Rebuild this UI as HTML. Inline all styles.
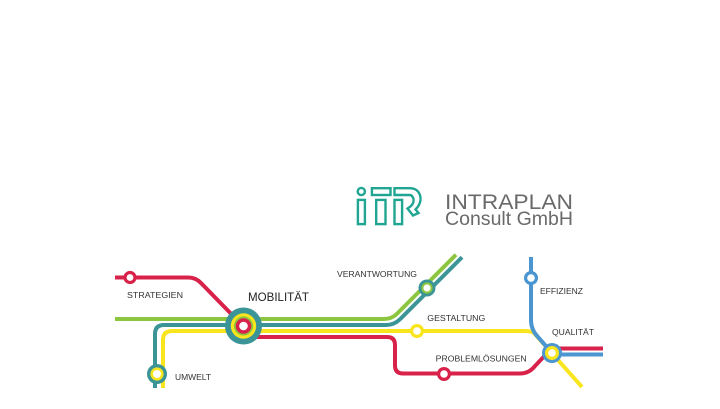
<!DOCTYPE html>
<html><head><meta charset="utf-8"><style>
html,body{margin:0;padding:0;background:#fff;}
svg{display:block;}
text{font-family:"Liberation Sans",Arial,sans-serif;}
</style></head><body>
<svg width="720" height="409" viewBox="0 0 720 409" xmlns="http://www.w3.org/2000/svg">
<rect width="720" height="409" fill="#fff"/>
<!-- Logo -->
<g fill="none" stroke="#1fa592" stroke-width="2.4">
<circle cx="361.3" cy="191.5" r="3.6"/>
<rect x="357.9" y="199.9" width="7" height="24.2"/>
<rect x="371.9" y="188.2" width="18.6" height="6.8"/>
<rect x="376.2" y="199.9" width="9.3" height="24.2"/>
<rect x="394.5" y="199.9" width="7.6" height="24.2"/>
<path d="M394.5,188.2 H410 C417.5,188.2 421,194 420.5,200 C420,204.5 417.5,207.5 415.5,209.5 L418.5,213 L413,215.5 L407.5,208.5 C411,206.5 413.6,203.5 413.6,200.5 C413.6,197.5 412,195 409.5,195 H394.5 Z"/>
</g>
<text x="445" y="209" font-size="21" fill="#6a6a6a" textLength="128" lengthAdjust="spacingAndGlyphs">INTRAPLAN</text>
<text x="445" y="225" font-size="19.5" fill="#6a6a6a" textLength="128" lengthAdjust="spacingAndGlyphs">Consult GmbH</text>

<!-- Lines -->
<g fill="none" stroke-width="4" stroke-linecap="butt">
<!-- green -->
<path stroke="#8cc63f" d="M115,319 H384 Q391.75,319 397,313.75 L456,254.75"/>
<!-- teal -->
<path stroke="#3b9597" d="M155,388 V334 Q155,325 164,325 H386 Q394.25,325 400,319.25 L462,257.25"/>
<!-- yellow -->
<path stroke="#f9e51e" d="M163,388 V340 Q163,331 172,331 H524 Q531,331 534,333 L582,387"/>
<!-- red -->
<path stroke="#d8224a" d="M115,277.5 H188 Q196,277.5 201,283 L243,326"/>
<path stroke="#d8224a" d="M243,337 H387 Q395,337 395,345 V365.5 Q395,373.5 403,373.5 H520 Q529,373.5 535,366 L550,350"/>
<path stroke="#d8224a" d="M552,348.5 H603"/>
<!-- blue -->
<path stroke="#4b96d1" d="M531,257 V320 Q531,330 538,337 L552,353"/>
<path stroke="#4b96d1" d="M552,354.5 H603"/>
</g>

<!-- Stations -->
<circle cx="130" cy="277.5" r="6.6" fill="#d8224a"/>
<circle cx="130" cy="277.5" r="3.4" fill="#fff"/>

<circle cx="243.5" cy="326" r="18.5" fill="#3b9597"/>
<circle cx="243.5" cy="326" r="12.7" fill="#f9e51e"/>
<circle cx="243.5" cy="326" r="9.6" fill="#8cc63f"/>
<circle cx="243.5" cy="326" r="7.8" fill="#d8224a"/>
<circle cx="243.5" cy="326" r="4.3" fill="#fff"/>

<circle cx="157" cy="374" r="10" fill="#3b9597"/>
<circle cx="157" cy="374" r="6.6" fill="#f9e51e"/>
<circle cx="157" cy="374" r="4" fill="#fff"/>

<circle cx="427" cy="288" r="8.5" fill="#3b9597"/>
<circle cx="427" cy="288" r="5.6" fill="#8cc63f"/>
<circle cx="427" cy="288" r="3.6" fill="#fff"/>

<circle cx="417" cy="331" r="7" fill="#f9e51e"/>
<circle cx="417" cy="331" r="3.8" fill="#fff"/>

<circle cx="444" cy="374" r="7" fill="#d8224a"/>
<circle cx="444" cy="374" r="3.8" fill="#fff"/>

<circle cx="531" cy="278" r="7" fill="#4b96d1"/>
<circle cx="531" cy="278" r="3.8" fill="#fff"/>

<circle cx="552" cy="353" r="10" fill="#4b96d1"/>
<circle cx="552" cy="353" r="7" fill="#f9e51e"/>
<circle cx="552" cy="353" r="3.8" fill="#fff"/>

<!-- Labels -->
<g fill="#333" font-size="8.6">
<text x="127" y="298" textLength="56" lengthAdjust="spacingAndGlyphs">STRATEGIEN</text>
<text x="175" y="380" textLength="36" lengthAdjust="spacingAndGlyphs">UMWELT</text>
<text x="337" y="277" textLength="80" lengthAdjust="spacingAndGlyphs">VERANTWORTUNG</text>
<text x="427.3" y="321" textLength="58" lengthAdjust="spacingAndGlyphs">GESTALTUNG</text>
<text x="435.7" y="361.5" textLength="91" lengthAdjust="spacingAndGlyphs">PROBLEMLÖSUNGEN</text>
<text x="540" y="294" textLength="43" lengthAdjust="spacingAndGlyphs">EFFIZIENZ</text>
<text x="552" y="335" textLength="42" lengthAdjust="spacingAndGlyphs">QUALITÄT</text>
</g>
<text x="248" y="301" font-size="11.8" fill="#222" textLength="61" lengthAdjust="spacingAndGlyphs">MOBILITÄT</text>
</svg>
</body></html>
